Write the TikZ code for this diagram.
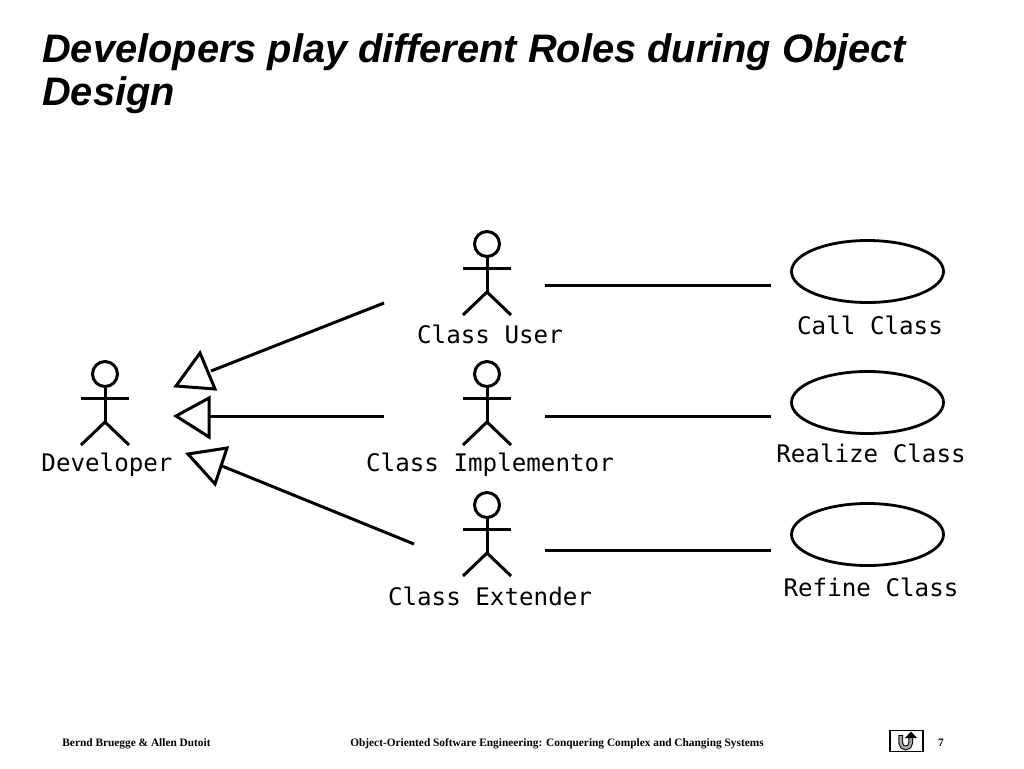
\documentclass[tikz,border=0pt]{standalone}
\usepackage{fontspec}
\usetikzlibrary{shapes.geometric}
\setmainfont[Ligatures=NoCommon]{Liberation Sans}
\newfontfamily\labelfont{DejaVu Sans Mono}
\newfontfamily\footfont{Liberation Serif}
\tikzset{
	actorline/.style={line width=3pt},
	assoc/.style={line width=3pt},
	tri/.style={line width=3pt, line join=miter, fill=white},
	usecase/.style={draw, ellipse, line width=2.8pt, minimum width=152pt, minimum height=62pt, inner sep=0pt},
	lbl/.style={font=\labelfont\fontsize{24.2}{24.2}\selectfont, inner sep=0pt, anchor=base},
	foot/.style={font=\footfont\bfseries\fontsize{11.35}{11.35}\selectfont, inner sep=0pt, anchor=base},
	headline/.style={font=\bfseries\itshape\fontsize{39.8}{39.8}\selectfont, inner sep=0pt, anchor=base west},
	pics/actor/.style={code={
		\draw[actorline] (0,-24) circle (12.5);
		\draw[actorline] (0,-11.5)--(0,24);
		\draw[actorline] (-24,0)--(24,0);
		\draw[actorline] (-24,47)--(0,24)--(24,47);
	}}
}
\begin{document}
\begin{tikzpicture}[x=1pt,y=-1pt]
	\path[use as bounding box] (0,0) rectangle (1024,768);
	% title
	\node[headline] (title1) at (42,62.5) {Developers play different Roles during Object};
	\node[headline] (title2) at (42,105.5) {Design};
	
	% actors
	\pic at (105,398) {actor};
	\pic at (487,268) {actor};
	\pic at (487,398) {actor};
	\pic at (487,529) {actor};
	\node[lbl] (developer) at (107,471) {Developer};
	\node[lbl] (user) at (490,343) {Class User};
	\node[lbl] (implementor) at (490,471) {Class Implementor};
	\node[lbl] (extender) at (490,605) {Class Extender};
	
	% use cases
	\node[usecase] (call) at (867.5,271.5) {};
	\node[usecase] (realize) at (867.5,402.5) {};
	\node[usecase] (refine) at (867.5,534.5) {};
	\node[lbl] (calltext) at (870,334) {Call Class};
	\node[lbl] (realizetext) at (871,462) {Realize Class};
	\node[lbl] (refinetext) at (871,596) {Refine Class};
	
	\coordinate (ua) at (545,285);
	\coordinate (ub) at (771,285);
	\coordinate (ia) at (545,416);
	\coordinate (ib) at (771,416);
	\coordinate (ea) at (545,550);
	\coordinate (eb) at (771,550);
	\draw[assoc] (ua)--(ub);
	\draw[assoc] (ia)--(ib);
	\draw[assoc] (ea)--(eb);
	
	% generalizations
	\coordinate (g1) at (384,303);
	\coordinate (h1) at (211,371);
	\coordinate (g2) at (384,416);
	\coordinate (h2) at (209,416);
	\coordinate (g3) at (414,544);
	\coordinate (h3) at (222,466);
	\draw[assoc] (g1)--(h1);
	\draw[assoc] (g2)--(h2);
	\draw[assoc] (g3)--(h3);
	\draw[tri] (176,386)--(200,353)--(215,389)--cycle;
	\draw[tri] (176,416)--(209,398)--(209,437)--cycle;
	\draw[tri] (188,454)--(227,448)--(215,484)--cycle;
	
	% footer
	\node[foot] (authors) at (136.5,746.5) {Bernd Bruegge \& Allen Dutoit};
	\node[foot] (book) at (557,746.5) {Object-Oriented Software Engineering: Conquering Complex and Changing Systems};
	\node[foot] (page) at (941,746.5) {7};
	\node[draw, line width=1.2pt, minimum width=33pt, minimum height=21pt, inner sep=0pt] (back) at (906.5,741) {};
	\draw[line width=4.6pt] (900.7,735)--(900.7,743) arc (180:0:5) -- (910.7,737);
	\draw[line width=2.6pt, gray!70] (900.7,736)--(900.7,743) arc (180:0:5) -- (910.7,737);
	\fill[black] (905,738)--(911,731.5)--(917,738)--cycle;
\end{tikzpicture}
\end{document}
